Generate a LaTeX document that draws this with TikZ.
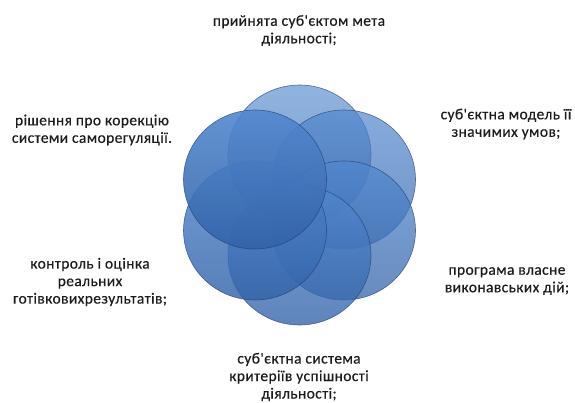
\documentclass[tikz,border=0pt]{standalone}
\usepackage{fontspec}
\setmainfont{Carlito}
\newfontfamily\lblfont[LetterSpace=2.5,FakeBold=0.4]{Carlito}
\usetikzlibrary{shapes.geometric}
\definecolor{petaltop}{RGB}{82,136,206}
\definecolor{petalbot}{RGB}{50,98,168}
\definecolor{petaledge}{RGB}{34,62,108}
\definecolor{labeltext}{RGB}{28,28,28}
\begin{document}
\begin{tikzpicture}[x=1pt,y=-1pt,
  petal/.style={ellipse, minimum width=143pt, minimum height=139pt, inner sep=0pt, draw=petaledge, line width=0.6pt,
    draw opacity=0.7, top color=petaltop, bottom color=petalbot, fill opacity=#1},
  lbl/.style={align=center, font=\lblfont\fontsize{15.5}{17.5}\selectfont, text=labeltext, inner sep=0pt}]
\path[use as bounding box] (0,0) rectangle (575,403);
% petals, drawn in order so the upper-left one lies on top
\node[petal=0.64] (p1) at (299.5,154.5) {};
\node[petal=0.7]  (p2) at (344,179.5) {};
\node[petal=0.74] (p3) at (344,230.5) {};
\node[petal=0.78] (p4) at (299.5,255.5) {};
\node[petal=0.82] (p5) at (255,230.5) {};
\node[petal=0.9]  (p6) at (255,179.5) {};
% labels
\node[lbl] (t1) at (299,30.5) {прийнята суб'єктом мета\\діяльності;};
\node[lbl] (t2) at (506,124) {суб'єктна модель її\\значимих умов;};
\node[lbl] (t3) at (507,281) {програма власне\\виконавських дій;};
\node[lbl] (t4) at (299,377) {суб'єктна система\\критеріїв успішності\\діяльності;};
\node[lbl] (t5) at (90,282) {контроль і оцінка\\реальних\\готівковихрезультатів;};
\node[lbl] (t6) at (92,130) {рішення про корекцію\\системи саморегуляції.};
\end{tikzpicture}
\end{document}
